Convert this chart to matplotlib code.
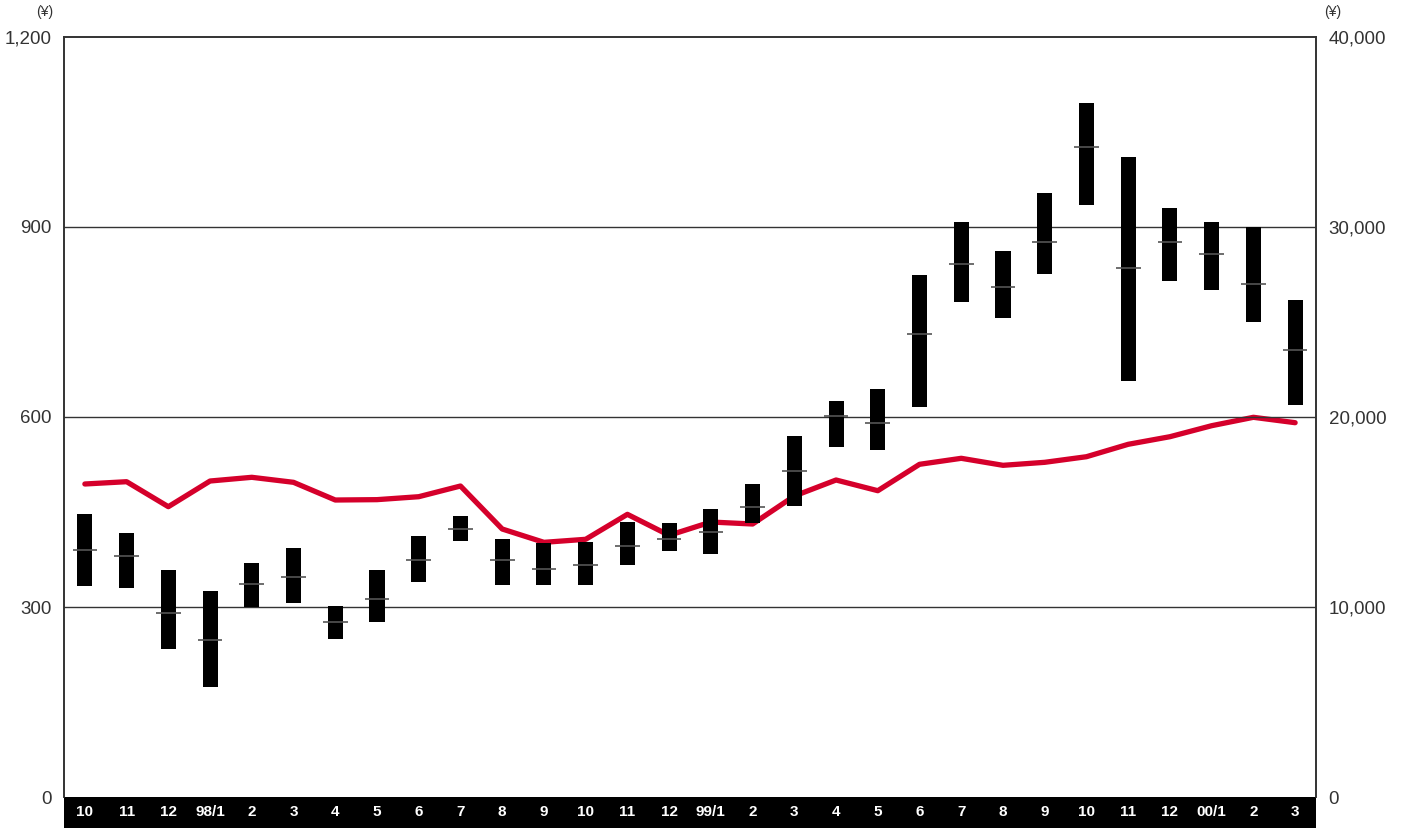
import matplotlib
matplotlib.use('Agg')
import matplotlib.pyplot as plt
import matplotlib.transforms as mtransforms
from matplotlib.patches import Rectangle

# 月份（97/10 ～ 00/3）
months = ['10', '11', '12', '98/1', '2', '3', '4', '5', '6', '7', '8', '9',
          '10', '11', '12', '99/1', '2', '3', '4', '5', '6', '7', '8', '9',
          '10', '11', '12', '00/1', '2', '3']

# 株価（高値・安値・終値）左軸 円
high = [447, 417, 358, 325, 370, 393, 302, 358, 412, 444, 407, 401,
        403, 434, 433, 455, 494, 570, 625, 644, 824, 908, 862, 954,
        1096, 1010, 930, 908, 900, 785]
low = [333, 330, 233, 174, 300, 307, 250, 277, 340, 405, 335, 334,
       334, 367, 389, 384, 432, 460, 553, 548, 616, 782, 756, 825,
       935, 657, 815, 801, 750, 619]
close = [390, 380, 291, 248, 337, 347, 277, 312, 374, 423, 374, 360,
         367, 396, 407, 418, 458, 515, 601, 590, 731, 841, 806, 877,
         1026, 836, 876, 858, 810, 706]

# 日経平均（月末）右軸 円
index_line = [16474, 16595, 15279, 16631, 16826, 16562, 15631, 15650,
              15805, 16368, 14105, 13404, 13563, 14878, 13773, 14473,
              14368, 15842, 16684, 16121, 17510, 17826, 17457, 17615,
              17910, 18563, 18963, 19542, 19984, 19700]

left_ticks = [0, 300, 600, 900, 1200]
left_labels = ['0', '300', '600', '900', '1,200']
right_ticks = [0, 10000, 20000, 30000, 40000]
right_labels = ['0', '10,000', '20,000', '30,000', '40,000']

plt.rcParams['font.family'] = ['Liberation Sans', 'DejaVu Sans']

W, H = 1403, 831
fig = plt.figure(figsize=(W / 100, H / 100), dpi=100)
ax = fig.add_axes([64 / W, 34 / H, 1252 / W, 760 / H])
ax2 = ax.twinx()

x = [i + 0.5 for i in range(len(months))]
bar_w = 0.36
tick_w = 0.59

# 高値～安値のバー
ax.bar(x, [h - l for h, l in zip(high, low)], bottom=low, width=bar_w,
       color='black', zorder=3)
# 終値の横線
ax.hlines(close, [v - tick_w / 2 for v in x], [v + tick_w / 2 for v in x],
          colors='#555555', linewidth=1.2, zorder=4)

# 日経平均
ax2.plot(x, index_line, color='#d5002b', linewidth=3.8, solid_capstyle='round',
         solid_joinstyle='round', zorder=5)

ax.set_xlim(0, len(months))
ax.set_ylim(0, 1200)
ax2.set_ylim(0, 40000)
ax.set_yticks(left_ticks)
ax.set_yticklabels(left_labels)
ax2.set_yticks(right_ticks)
ax2.set_yticklabels(right_labels)
ax.set_xticks([])

for a in (ax, ax2):
    a.tick_params(axis='y', length=0, labelsize=13.5, labelcolor='#333333', pad=9)
    for s in a.spines.values():
        s.set_color('#333333')
        s.set_linewidth(1.2)
    a.spines['bottom'].set_visible(False)

for g in left_ticks[1:-1]:
    ax.axhline(g, color='#333333', linewidth=1.0, zorder=1)

ax.set_zorder(ax2.get_zorder() + 1)
ax.patch.set_visible(False)

# 下部の黒帯と月ラベル
band_h = 31 / 760
ax.add_patch(Rectangle((0, -band_h), 1, band_h, transform=ax.transAxes,
                       facecolor='black', edgecolor='none', clip_on=False))
trans = mtransforms.blended_transform_factory(ax.transData, ax.transAxes)
for xi, m in zip(x, months):
    ax.text(xi, -band_h / 2, m, transform=trans, ha='center', va='center',
            color='white', fontsize=11, fontweight='bold', clip_on=False)

fig.text(45 / W, 1 - 12 / H, '(¥)', ha='center', va='center', fontsize=10,
         color='#333333')
fig.text(1333 / W, 1 - 12 / H, '(¥)', ha='center', va='center', fontsize=10,
         color='#333333')

fig.savefig('out.png', dpi=100, facecolor='white')
